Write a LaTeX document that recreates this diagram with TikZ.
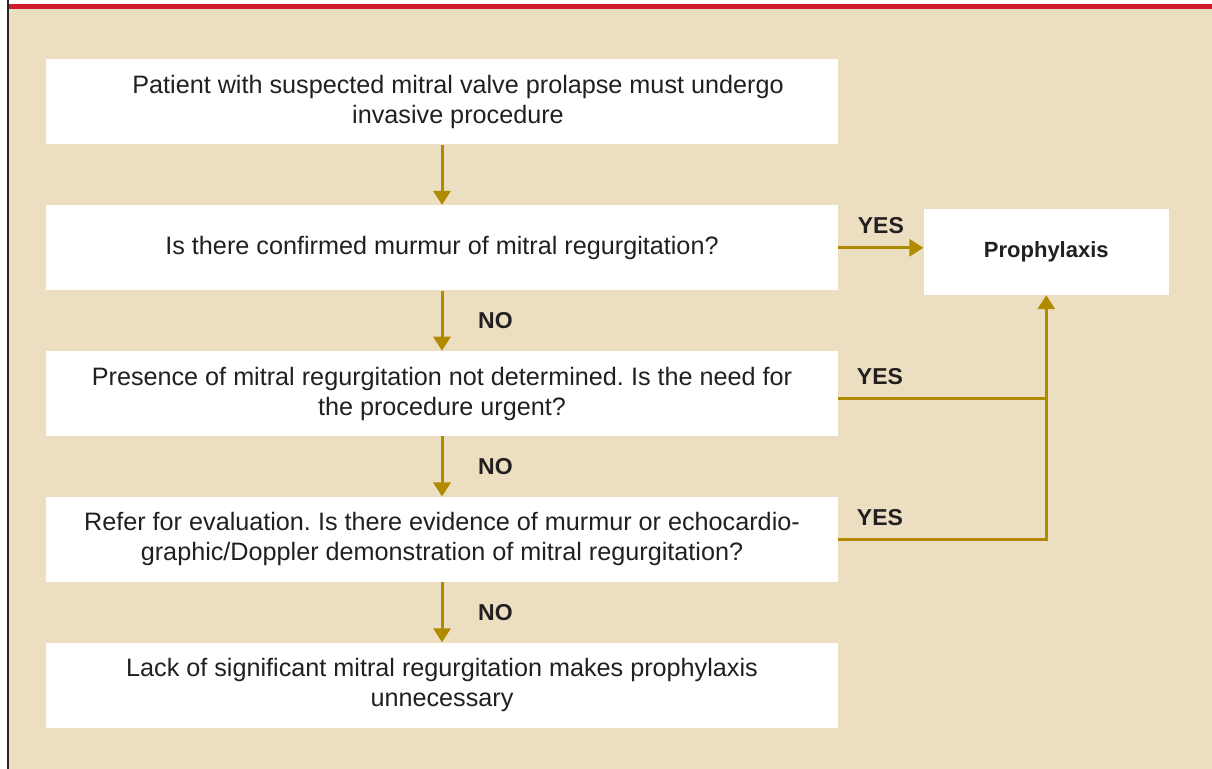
\documentclass[tikz,border=0pt]{standalone}
\usepackage{fontspec}
\setmainfont{Liberation Sans}
\usetikzlibrary{arrows.meta,positioning}
\frenchspacing

\definecolor{bgbeige}{HTML}{EBDEC1}
\definecolor{arrowgold}{HTML}{B08B00}
\definecolor{topred}{HTML}{D01A2E}
\definecolor{inktext}{HTML}{231F20}

\begin{document}
\begin{tikzpicture}[x=0.5pt,y=-0.5pt,node distance=30pt,text=inktext,
		font=\fontsize{12.6}{15}\selectfont,
		box/.style={fill=white,minimum width=396pt,minimum height=42.5pt,align=center,inner sep=0pt},
		flow/.style={draw=arrowgold,line width=1.5pt,-{Triangle[width=8.5pt,length=7pt]}},
		link/.style={draw=arrowgold,line width=1.5pt},
		answer/.style={font=\fontsize{11.5}{14}\selectfont\bfseries}]
		
		% frame
		\useasboundingbox (0,0) rectangle (1212,769);
		\fill[white] (0,0) rectangle (1212,769);
		\fill[bgbeige] (8,8) rectangle (1212,769);
		\draw[topred,line width=2.2pt] (8,6.5) -- (1212,6.5);
		\draw[black!85,line width=1.4pt] (8,0) -- (8,769);
		
		\node[box](patient) at (442,102) {\hspace*{16pt}Patient with suspected mitral valve prolapse must undergo\\\hspace*{16pt}invasive procedure};
		\node[box](murmur)[below=of patient] {Is there confirmed murmur of mitral regurgitation?};
		\node[box](urgent)[below=of murmur] {Presence of mitral regurgitation not determined. Is the need for\\the procedure urgent?};
		\node[box](evidence)[below=of urgent] {Refer for evaluation. Is there evidence of murmur or echocardio-\\graphic/Doppler demonstration of mitral regurgitation?};
		\node[box](lack)[below=of evidence] {Lack of significant mitral regurgitation makes prophylaxis\\unnecessary};
		\node[box,minimum width=122.5pt,minimum height=43pt,font=\fontsize{11}{14}\selectfont\bfseries](prophylaxis)[right=42.5pt of murmur,yshift=-2pt] {Prophylaxis};
		
		\draw[flow] (patient) -- (murmur);
		\draw[flow] (murmur) -- node[answer,right=14pt]{NO} (urgent);
		\draw[flow] (urgent) -- node[answer,right=14pt]{NO} (evidence);
		\draw[flow] (evidence) -- node[answer,right=14pt]{NO} (lack);
		
		\draw[flow] (murmur.east) -- node[answer,above=3pt]{YES} (murmur.east -| prophylaxis.west);
		\draw[link] ([yshift=-2.5pt]urgent.east) -- node[answer,above=3pt,pos=0.2]{YES} ([yshift=-2.5pt]urgent.east -| prophylaxis.south);
		\draw[flow] (evidence.east) -- node[answer,above=3pt,pos=0.2]{YES} (evidence.east -| prophylaxis.south) -- (prophylaxis.south);
		
	\end{tikzpicture}
\end{document}
